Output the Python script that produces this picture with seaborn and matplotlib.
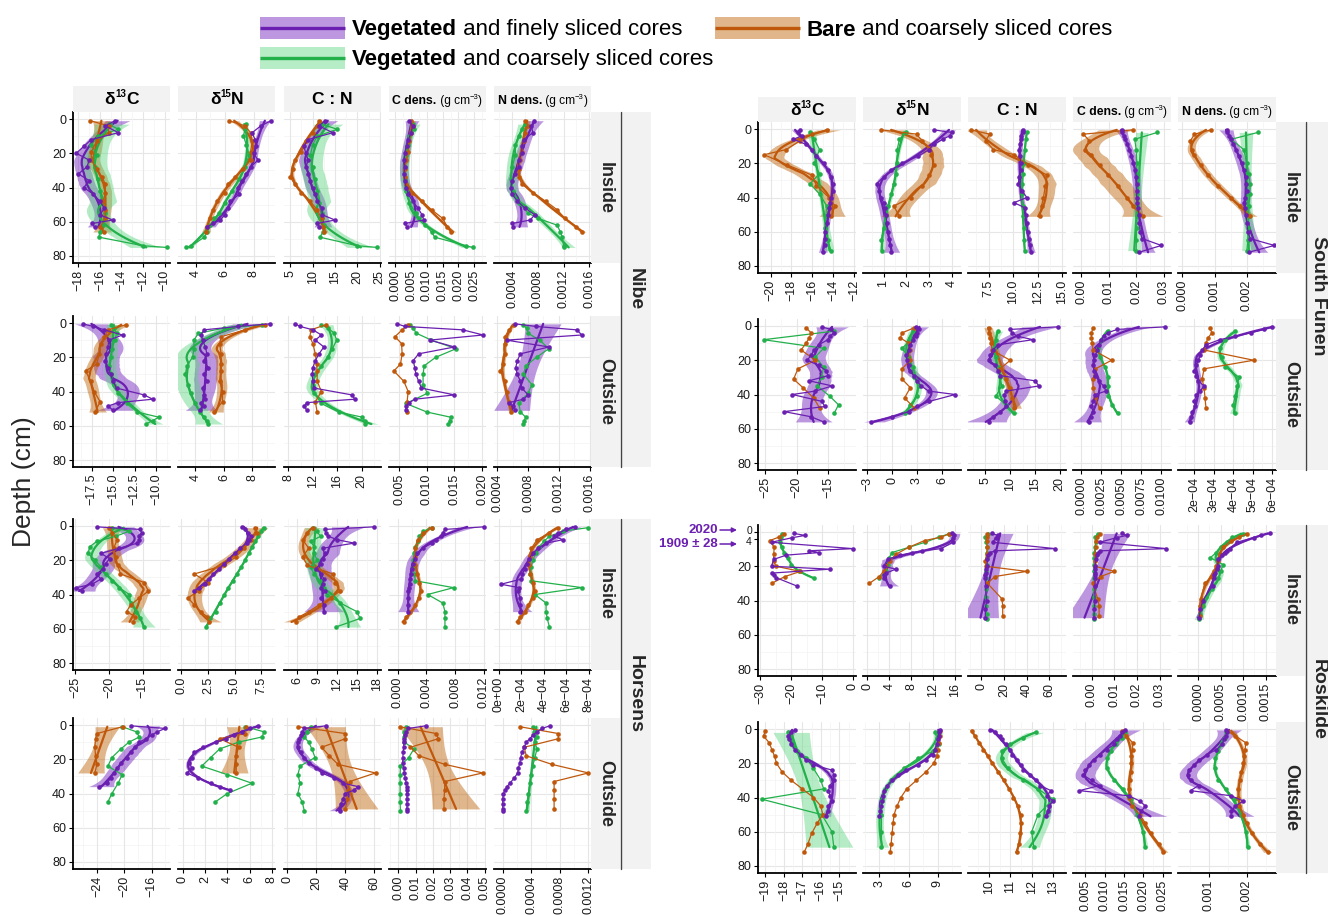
import warnings
warnings.filterwarnings("ignore")
import numpy as np
import pandas as pd
import matplotlib
matplotlib.use("Agg")
import matplotlib.pyplot as plt
from matplotlib.patches import Rectangle
import seaborn as sns

NA = np.nan
VARIABLES = ["d13C", "d15N", "CN", "Cdens", "Ndens"]
DRAW_ORDER = ["coarse", "bare", "fine"]

# ---------------- Nibe / Inside ----------------
NIBE_IN_FINE_DEPTH = [1, 4, 8, 12, 16, 20, 24, 28, 32, 36, 40, 44, 48, 52, 56, 59, 61, 63]
NIBE_IN_FINE = {
    "d13C": [-14.6, -15.5, -14.3, -16.8, -17.5, -18.2, -17.0, -17.2, -18.0, -17.0, -17.5, -16.6, -16.0, -15.6, -16.0, -14.8, -16.7, -16.5],
    "d15N": [9.2, 8.5, 7.9, 8.1, 8.2, 8.0, 8.3, 7.8, 7.5, 7.2, 6.9, 7.0, 6.4, 6.2, 6.0, 5.7, 5.2, 4.8],
    "CN": [12.8, 11.4, 14.5, 9.0, 8.0, 8.5, 9.0, 8.5, 9.0, 9.5, 10.0, 10.5, 11.0, 12.0, 12.2, 15.0, 11.0, 11.5],
    "Cdens": [0.0045, 0.0055, 0.005, 0.0042, 0.0036, 0.003, 0.0028, 0.003, 0.0028, 0.003, 0.0035, 0.0042, 0.0055, 0.0072, 0.0085, 0.009, 0.003, 0.0038],
    "Ndens": [0.00074, 0.0007, 0.00072, 0.00058, 0.00055, 0.00055, 0.0005, 0.0005, 0.00045, 0.0004, 0.00038, 0.0004, 0.00048, 0.0006, 0.00075, 0.00068, 0.0004, 0.00042],
}
NIBE_IN_BARE_DEPTH = [1, 4, 8, 13, 19, 24, 29, 34, 38, 43, 48, 53, 58, 63, 66]
NIBE_IN_BARE = {
    "d13C": [-16.9, -15.2, -15.2, -16.3, -16.8, -16.8, -16.3, -15.8, -15.5, -15.5, -15.7, -15.5, -15.5, -16.0, -15.6],
    "d15N": [6.3, 7.4, 7.8, 7.9, 7.8, 7.8, 7.3, 6.7, 6.2, 6.0, 5.5, 5.2, 5.0, 4.8, 4.7],
    "CN": [11.5, 11.0, 10.0, 8.5, 7.5, 6.0, 5.5, 5.0, 6.0, 7.5, 9.5, 11.0, 12.0, 12.3, 12.5],
    "Cdens": [0.005, 0.0055, 0.005, 0.0045, 0.004, 0.0035, 0.003, 0.003, 0.0035, 0.0052, 0.0086, 0.0115, 0.015, 0.0165, 0.0175],
    "Ndens": [0.0006, 0.00065, 0.0006, 0.00058, 0.00055, 0.00052, 0.0005, 0.0005, 0.00055, 0.00072, 0.00092, 0.0011, 0.00122, 0.0014, 0.00148],
}
NIBE_IN_COARSE_DEPTH = [3, 6, 10, 15, 21, 28, 35, 42, 49, 55, 58, 62, 66, 69, 74, 75]
NIBE_IN_COARSE = {
    "d13C": [-15.2, -14.3, -16.2, -16.8, -16.3, -16.5, -16.2, -16.0, -15.8, -15.5, -15.5, -15.7, -16.0, -16.1, -12.0, -9.8],
    "d15N": [7.5, 7.4, 7.3, 7.5, 7.7, 7.4, 7.0, 6.5, 6.0, 5.6, 5.3, 5.0, 4.8, 4.6, 3.7, 3.3],
    "CN": [12.0, 15.5, 11.0, 10.0, 9.5, 10.0, 10.5, 11.0, 11.5, 12.0, 12.0, 12.5, 12.3, 11.6, 20.0, 24.5],
    "Cdens": [0.0055, 0.006, 0.0045, 0.004, 0.0035, 0.003, 0.003, 0.0035, 0.0045, 0.0065, 0.0075, 0.0095, 0.0115, 0.0125, 0.0225, 0.0245],
    "Ndens": [0.0006, 0.00055, 0.0005, 0.00045, 0.00045, 0.0004, 0.00038, 0.00042, 0.0005, 0.00065, 0.0008, 0.0011, 0.00115, 0.00118, 0.0012, 0.00121],
}

# ---------------- Nibe / Outside ----------------
NIBE_OUT_FINE_DEPTH = [0.5, 2, 4, 7, 10, 14, 18, 22, 26, 30, 34, 38, 42, 44.5, 46.5, 48.5, 51]
NIBE_OUT_FINE = {
    "d13C": [-18.5, -17.3, -16.0, -13.9, -15.5, -15.6, -15.8, -15.9, -15.6, -15.3, -15.0, -14.6, -11.4, -10.4, -14.4, -15.6, -15.0],
    "d15N": [9.2, 7.0, 4.6, 4.4, 4.5, 4.7, 4.8, 4.6, 4.9, 4.6, 4.8, 4.5, 4.6, 4.7, 4.4, 4.6, 4.3],
    "CN": [9.1, 9.9, 12.0, 13.4, 12.4, 13.8, 13.0, 12.4, 12.0, 11.9, 12.0, 12.2, 18.4, 18.9, 11.0, 10.6, 11.0],
    "Cdens": [0.0046, 0.006, 0.0165, 0.0202, 0.0105, 0.015, 0.0085, 0.0075, 0.0078, 0.008, 0.0085, 0.009, 0.015, 0.0078, 0.0068, 0.0062, 0.0062],
    "Ndens": [0.00063, 0.0009, 0.00143, 0.0015, 0.00052, 0.00107, 0.0007, 0.00066, 0.00064, 0.00066, 0.0007, 0.00072, 0.0008, 0.00074, 0.00055, 0.0006, 0.00063],
}
NIBE_OUT_BARE_DEPTH = [1, 4, 8, 12, 18, 24, 28, 34, 40, 46, 52]
NIBE_OUT_BARE = {
    "d13C": [-13.5, -15.6, -16.0, -16.4, -16.6, -16.9, -18.2, -17.6, -17.2, -16.5, -17.1],
    "d15N": [8.9, 7.5, 5.8, 5.7, 5.8, 5.8, 5.8, 5.7, 5.9, 5.9, 5.3],
    "CN": [14.1, 11.7, 11.5, 12.0, 12.4, 12.6, 12.7, 12.7, 13.4, 12.4, 12.7],
    "Cdens": [0.0066, 0.0055, 0.0042, 0.0054, 0.0055, 0.0052, 0.004, 0.0058, 0.0066, 0.0064, 0.0063],
    "Ndens": [0.00062, 0.00055, 0.0005, 0.0005, 0.0005, 0.00048, 0.00044, 0.0005, 0.00052, 0.00055, 0.00058],
}
NIBE_OUT_COARSE_DEPTH = [1, 3, 6, 10, 15, 20, 25, 30, 36, 41, 47, 52, 55, 57, 59]
NIBE_OUT_COARSE = {
    "d13C": [-15.3, -14.9, -14.6, -14.8, -15.1, -15.3, -15.5, -15.2, -14.9, -14.4, -13.4, -12.2, -9.7, -10.4, -11.2],
    "d15N": [8.7, 6.0, 4.2, 3.9, 3.9, 3.8, 3.4, 3.3, 3.5, 3.7, 4.0, 4.3, 4.6, 4.8, 4.9],
    "CN": [13.4, 14.5, 15.5, 15.9, 15.2, 14.4, 13.4, 12.4, 12.0, 12.2, 13.4, 16.2, 20.1, 20.5, 20.5],
    "Cdens": [0.0069, 0.0075, 0.0081, 0.0108, 0.0153, 0.0116, 0.0095, 0.0093, 0.0093, 0.0101, 0.0062, 0.010, 0.0143, 0.0141, 0.0139],
    "Ndens": [0.00074, 0.00078, 0.0008, 0.00095, 0.00107, 0.00091, 0.00077, 0.00074, 0.00085, 0.0008, 0.00068, 0.0007, 0.00077, 0.00075, 0.00074],
}

# ---------------- Horsens / Inside ----------------
HORSENS_IN_FINE_DEPTH = [0.5, 2, 4, 6, 8, 10, 13, 16, 19, 22, 25, 28, 31, 34, 36, 38, 42, 46, 50]
HORSENS_IN_FINE = {
    "d13C": [-21.8, -15.4, -15.2, -15.6, -15.5, -15.8, -18.5, -21.2, -19.9, -20.5, -20.9, -21.8, -21.2, -22.5, -24.8, -24.0, NA, NA, NA],
    "d15N": [5.7, 6.0, 6.2, 6.5, 6.3, 6.1, 5.5, 5.0, 4.5, 4.0, 3.5, 3.0, 2.6, 2.2, 1.6, 1.2, NA, NA, NA],
    "CN": [17.6, 10.1, 10.4, 10.7, 12.0, 14.6, 9.8, 10.1, 9.8, 9.5, 8.8, 9.6, 10.0, 9.8, 9.5, 10.1, 9.6, 10.0, 10.0],
    "Cdens": [0.012, 0.0066, 0.0063, 0.006, 0.0054, 0.0048, 0.0035, 0.0027, 0.0024, 0.0021, 0.002, 0.0019, 0.0018, 0.0017, 0.0016, 0.0015, 0.0015, 0.0015, 0.0015],
    "Ndens": [6.8e-4, 6.0e-4, 5.3e-4, 4.9e-4, 5.7e-4, 4.2e-4, 3.5e-4, 3.0e-4, 2.7e-4, 2.5e-4, 2.3e-4, 2.1e-4, 2.0e-4, 0.2e-4, 1.8e-4, 1.7e-4, 1.9e-4, 1.9e-4, 1.9e-4],
}
HORSENS_IN_BARE_DEPTH = [1, 4, 8, 13, 18, 23, 28, 33, 38, 42, 46, 50, 53, 56]
HORSENS_IN_BARE = {
    "d13C": [-20.0, -19.5, -18.8, -19.3, -19.0, -18.7, -18.3, -14.8, -14.2, -15.5, -16.8, -17.4, -16.1, -16.4],
    "d15N": [6.9, 7.1, 6.5, 5.9, 5.1, 4.0, 1.2, 2.5, 1.6, 0.6, 1.2, 1.8, 2.4, 2.6],
    "CN": [8.3, 7.4, 6.8, 7.7, 6.8, 7.5, 11.4, 11.75, 12.4, 11.1, 9.3, 7.7, 6.3, 5.8],
    "Cdens": [0.0048, 0.0036, 0.0028, 0.0024, 0.0024, 0.0025, 0.0027, 0.003, 0.0033, 0.003, 0.0025, 0.0018, 0.0012, 0.0009],
    "Ndens": [5.3e-4, 4.5e-4, 3.4e-4, 2.9e-4, 2.8e-4, 2.7e-4, 2.8e-4, 3.0e-4, 3.2e-4, 3.0e-4, 2.6e-4, 2.3e-4, 1.9e-4, 1.7e-4],
}
HORSENS_IN_COARSE_DEPTH = [1, 3, 6, 9, 12, 16, 20, 24, 28, 32, 36, 40, 45, 50, 54, 59]
HORSENS_IN_COARSE = {
    "d13C": [-19.6, -17.0, -19.0, -21.8, -22.8, -23.1, -22.0, -21.2, -20.5, -19.6, -18.5, -17.0, -16.8, -16.0, -15.4, -14.8],
    "d15N": [7.7, 7.5, 7.2, 6.9, 6.6, 6.3, 6.0, 5.6, 5.2, 4.8, 4.4, 4.0, 3.6, 3.2, 2.7, 2.3],
    "CN": [8.3, 8.9, 9.5, 8.0, 8.5, 8.5, 9.0, 8.0, 8.5, 9.5, 10.0, 10.5, 12.5, 15.0, 15.5, 11.8],
    "Cdens": [0.0048, 0.0036, 0.003, 0.0028, 0.0025, 0.0023, 0.0022, 0.0022, 0.0023, 0.0025, 0.0078, 0.0042, 0.0063, 0.0066, 0.0066, 0.0066],
    "Ndens": [7.9e-4, 5.7e-4, 4.5e-4, 4.0e-4, 3.6e-4, 3.3e-4, 3.0e-4, 2.9e-4, 2.8e-4, 2.9e-4, 7.4e-4, 3.2e-4, 4.2e-4, 4.2e-4, 4.3e-4, 4.5e-4],
}

# ---------------- Horsens / Outside ----------------
HORSENS_OUT_FINE_DEPTH = [0.5, 2, 4, 6, 8, 10, 13, 16, 19, 22, 25, 28, 31, 34, 36, 38, 40, 43, 46, 49, 50]
HORSENS_OUT_FINE = {
    "d13C": [-19.0, -14.0, -15.2, -16.0, -16.8, -17.8, -18.4, -19.0, -19.6, -20.5, -21.0, -21.5, -22.0, -22.5, -23.7, NA, NA, NA, NA, NA, NA],
    "d15N": [6.75, 6.0, 5.3, 4.6, 3.9, 3.0, 1.8, 1.0, 0.8, 0.6, 0.8, 0.4, 1.4, 2.5, 3.3, 4.2, NA, NA, NA, NA, NA],
    "CN": [26.6, 11.8, 10.4, 9.5, 8.5, 7.4, 7.4, 9.5, 11.8, 14.8, 20.0, 23.7, 32.5, 38.5, 48.8, 45.9, 40.0, 38.5, 37.0, 35.5, 36.0],
    "Cdens": [0.0158, 0.0058, 0.0045, 0.004, 0.0035, 0.0033, 0.003, 0.0028, 0.0026, 0.0025, 0.003, 0.0035, 0.004, 0.0045, 0.0048, 0.005, 0.005, 0.005, 0.005, 0.005, 0.005],
    "Ndens": [6.6e-4, 5.5e-4, 4.8e-4, 4.2e-4, 3.8e-4, 3.3e-4, 3.0e-4, 2.7e-4, 2.5e-4, 2.4e-4, 2.2e-4, 2.1e-4, 1.6e-4, 1.0e-4, 0.6e-4, 0.3e-4, 0.1e-4, 0.0, 0.0, 0.0, 0.0],
}
HORSENS_OUT_BARE_DEPTH = [1, 5, 8, 13, 18, 23, 28, 33, 38, 43, 49]
HORSENS_OUT_BARE = {
    "d13C": [-20.25, -24.0, -24.2, -24.3, -24.2, -24.0, -24.3, NA, NA, NA, NA],
    "d15N": [5.7, 5.6, 3.3, 5.0, 4.8, 4.8, 4.8, NA, NA, NA, NA],
    "CN": [7.4, 40.0, 40.0, 23.7, 29.0, 35.0, 60.7, 43.0, 41.5, 41.4, 40.0],
    "Cdens": [0.0008, 0.022, 0.0232, 0.007, 0.012, 0.027, 0.049, 0.027, 0.0268, 0.0265, 0.0265],
    "Ndens": [2.4e-4, 7.8e-4, 7.8e-4, 3.0e-4, 3.3e-4, 6.9e-4, 1.2e-3, 7.2e-4, 7.2e-4, 7.2e-4, 7.2e-4],
}
HORSENS_OUT_COARSE_DEPTH = [1, 4, 7, 10, 14, 19, 24, 29, 34, 40, 45, 50]
HORSENS_OUT_COARSE = {
    "d13C": [-20.3, -18.2, -17.8, -19.3, -20.5, -21.8, -22.4, -20.3, -20.9, -21.8, -22.4, NA],
    "d15N": [5.6, 7.3, 7.1, 5.0, 3.3, 2.5, 1.7, 4.0, 6.2, 4.0, 2.9, NA],
    "CN": [16.3, 14.0, 11.8, 14.8, 17.0, 19.2, 8.9, 7.4, 8.9, 7.4, 10.4, 11.8],
    "Cdens": [0.0045, 0.0033, 0.003, 0.0035, 0.009, 0.006, 0.0012, 0.001, 0.001, 0.001, 0.001, 0.0012],
    "Ndens": [4.2e-4, 4.4e-4, 4.8e-4, 4.5e-4, 4.8e-4, 4.5e-4, 4.2e-4, 4.0e-4, 3.8e-4, 3.6e-4, 3.4e-4, 3.3e-4],
}

# ---------------- South Funen / Inside ----------------
SFUNEN_IN_FINE_DEPTH = [0.5, 2, 4, 6, 9, 12, 16, 20, 24, 28, 32, 36, 40, 43, 46, 50, 55, 60, 64, 68, 72]
SFUNEN_IN_FINE = {
    "d13C": [-17.2, -17.4, -17.0, -17.8, -16.6, -16.0, -15.6, -14.9, -14.5, -14.2, -14.0, -14.0, -14.2, -14.3, -14.4, -14.5, -14.6, -14.8, -14.8, -14.8, -15.0],
    "d15N": [3.2, 4.0, 3.9, 3.6, 3.2, 3.0, 2.5, 1.8, 1.35, 1.0, 0.7, 0.8, 0.9, 1.0, 1.05, 1.1, 1.15, 1.2, 1.25, 1.3, 1.35],
    "CN": [11.0, 11.0, 10.8, 10.8, 10.7, 10.6, 10.7, 10.8, 10.8, 10.6, 10.55, 10.9, 11.4, 10.1, 11.2, 11.3, 11.4, 11.5, 11.6, 11.7, 11.8],
    "Cdens": [0.0147, 0.015, 0.0155, 0.016, 0.0168, 0.0175, 0.0183, 0.019, 0.0197, 0.0201, 0.0202, 0.0202, 0.0202, 0.0204, 0.0206, 0.021, 0.0212, 0.0215, 0.0222, 0.0292, 0.021],
    "Ndens": [0.00137, 0.0014, 0.00146, 0.0015, 0.00158, 0.00165, 0.00175, 0.00184, 0.0019, 0.00196, 0.00198, 0.002, 0.00195, 0.0019, 0.00193, 0.00196, 0.002, 0.00203, 0.0021, 0.00285, 0.00205],
}
SFUNEN_IN_BARE_DEPTH = [0.5, 3, 7, 12, 15, 21, 27, 33, 40, 45, 51]
SFUNEN_IN_BARE = {
    "d13C": [-14.6, -16.0, -17.2, -18.5, -20.6, -18.4, -16.0, -15.6, -14.4, -13.8, -14.2],
    "d15N": [0.9, 2.45, 2.7, 3.0, 3.1, 3.2, 3.0, 2.7, 2.2, 1.45, 1.7],
    "CN": [5.7, 7.6, 7.2, 8.0, 10.1, 11.5, 13.5, 13.3, 13.1, 12.9, 12.7],
    "Cdens": [0.0187, 0.0008, 0.003, 0.0015, 0.0037, 0.0067, 0.0097, 0.0135, 0.0165, 0.0187, 0.0225],
    "Ndens": [0.00089, 0.00038, 0.00025, 0.0003, 0.00038, 0.00057, 0.0008, 0.0011, 0.0015, 0.0018, 0.0021],
}
SFUNEN_IN_COARSE_DEPTH = [2, 6, 12, 20, 26, 32, 38, 45, 51, 58, 65, 71]
SFUNEN_IN_COARSE = {
    "d13C": [-16.2, -15.8, -15.3, -15.8, -15.3, -16.2, -15.3, -14.6, -14.7, -14.8, -14.5, -14.2],
    "d15N": [2.0, 1.7, 1.6, 1.6, 1.55, 1.45, 1.35, 1.2, 1.1, 1.0, 0.9, 0.95],
    "CN": [11.4, 11.3, 11.2, 11.1, 11.0, 10.9, 10.9, 11.0, 11.0, 11.1, 11.1, 11.2],
    "Cdens": [0.0277, 0.0195, 0.02, 0.0202, 0.0202, 0.0202, 0.0203, 0.0202, 0.0202, 0.0202, 0.0201, 0.02],
    "Ndens": [0.00234, 0.00152, 0.0019, 0.002, 0.00205, 0.0021, 0.00209, 0.00206, 0.00205, 0.00204, 0.00203, 0.002],
}

# ---------------- South Funen / Outside ----------------
SFUNEN_OUT_FINE_DEPTH = [0.5, 2, 4, 6, 8, 11, 14, 17, 20, 23, 26, 29, 32, 35, 38, 40, 44, 47, 50, 53, 56]
SFUNEN_OUT_FINE = {
    "d13C": [-16.0, -14.5, -14.0, -14.7, -15.0, -16.5, -17.2, -17.7, -18.3, -16.5, -15.3, -15.0, -18.0, -14.3, -17.0, -20.7, -16.0, -15.5, -22.0, -17.7, -15.7],
    "d15N": [2.9, 3.2, 3.0, 2.9, 2.5, 2.2, 2.0, 1.7, 1.8, 2.0, 2.2, 2.6, 3.0, 3.5, 4.4, 7.6, 4.5, 3.0, 2.0, 0.0, -2.5],
    "CN": [19.6, 10.0, 10.4, 11.5, 14.6, 7.5, 6.5, 6.0, 5.8, 7.0, 7.5, 8.0, 15.0, 15.8, 9.2, 8.8, 9.0, 9.2, 8.0, 6.5, 5.8],
    "Cdens": [0.0105, 0.0045, 0.0033, 0.0028, 0.0025, 0.0022, 0.002, 0.0018, 0.0016, 0.0015, 0.0016, 0.0018, 0.0022, 0.0028, 0.0031, 0.0018, 0.0015, 0.0013, 0.0015, 0.0012, 0.001],
    "Ndens": [6.0e-4, 5.6e-4, 4.9e-4, 4.1e-4, 3.3e-4, 2.6e-4, 2.4e-4, 2.3e-4, 2.2e-4, 2.1e-4, 2.0e-4, 2.1e-4, 2.2e-4, 2.5e-4, 2.3e-4, 2.1e-4, 2.0e-4, 2.05e-4, 1.9e-4, 1.85e-4, 1.8e-4],
}
SFUNEN_OUT_BARE_DEPTH = [1, 4, 7, 10, 14, 20, 25, 31, 36, 42, 48]
SFUNEN_OUT_BARE = {
    "d13C": [-18.5, -17.7, -18.0, -18.5, -19.3, -17.0, -19.8, -20.5, -19.0, -17.3, -16.3],
    "d15N": [2.7, 1.2, 1.0, 2.0, 2.1, 2.2, 1.2, 1.2, 2.2, 1.5, 2.7],
    "CN": [5.7, 5.8, 6.0, 6.2, 6.3, 10.0, 8.0, 9.2, 10.0, 10.4, 10.8],
    "Cdens": [0.0015, 0.0013, 0.0013, 0.0014, 0.0015, 0.0038, 0.0018, 0.0015, 0.0015, 0.0018, 0.0023],
    "Ndens": [2.8e-4, 2.9e-4, 2.7e-4, 2.6e-4, 2.5e-4, 5.05e-4, 2.5e-4, 2.4e-4, 2.5e-4, 2.55e-4, 2.6e-4],
}
SFUNEN_OUT_COARSE_DEPTH = [3, 8, 13, 18, 24, 30, 35, 41, 46, 51]
SFUNEN_OUT_COARSE = {
    "d13C": [-14.0, -25.3, -15.7, -17.0, -15.7, -16.0, -16.7, -14.7, -13.3, -14.0],
    "d15N": [2.5, 2.3, 1.2, 2.0, 2.5, 2.7, 3.2, 3.0, 2.2, 1.5],
    "CN": [7.5, 7.2, 6.7, 7.1, 7.5, 8.0, 8.3, 7.1, 9.2, 10.8],
    "Cdens": [0.0033, 0.0025, 0.0021, 0.0024, 0.003, 0.0034, 0.0033, 0.0034, 0.0038, 0.0046],
    "Ndens": [4.1e-4, 3.6e-4, 3.3e-4, 3.4e-4, 3.6e-4, 4.3e-4, 4.2e-4, 4.1e-4, 4.0e-4, 4.1e-4],
}

# ---------------- Roskilde / Inside ----------------
ROSKILDE_IN_FINE_DEPTH = [0.8, 2, 3.3, 6, 9.7, 11, 12, 13.5, 16, 20, 21.7, 24, 25, 26.6, 31.5, 40, 45, 50]
ROSKILDE_IN_FINE = {
    "d13C": [-19.2, -15.5, -19.6, -26.4, 0.0, -14.2, -10.8, -21.6, -25.7, -26.4, -7.4, -26.4, -25.7, -25.0, -18.2, NA, NA, NA],
    "d15N": [15.3, 15.7, 15.5, 15.5, 13.4, 10.0, 8.2, 6.0, 3.7, 3.0, 5.2, 3.4, 3.0, 3.0, 4.1, NA, NA, NA],
    "CN": [9.1, 14.5, 13.0, 10.0, 65.0, 12.0, 8.0, 6.0, 5.5, 5.0, 4.5, 4.0, 3.6, 3.6, 3.8, 4.7, 3.6, 3.6],
    "Cdens": [0.0133, 0.0155, 0.011, 0.0036, 0.033, 0.0036, 0.003, 0.0025, 0.0018, 0.0016, 0.0015, 0.0015, 0.0015, 0.0015, 0.0015, 0.0015, 0.0012, 0.001],
    "Ndens": [0.00159, 0.0014, 0.00123, 0.00086, 0.0007, 0.00064, 0.0006, 0.00052, 0.00045, 0.00043, 0.00041, 0.00038, 0.00036, 0.00034, 0.00032, 0.0001, 0.00005, 0.00002],
}
ROSKILDE_IN_BARE_DEPTH = [1, 3, 5, 9, 13, 17, 20, 23, 26, 30, 39, 43, 49]
ROSKILDE_IN_BARE = {
    "d13C": [-22.3, -24.0, -27.0, -25.5, -25.7, -25.7, -25.0, -17.0, -22.0, -26.4, NA, NA, NA],
    "d15N": [14.9, 13.4, 10.4, 7.5, 5.2, 4.1, 3.5, 3.0, 2.2, 0.4, NA, NA, NA],
    "CN": [5.5, 4.7, 4.7, 5.5, 4.7, 3.6, 4.0, 40.0, 12.0, 5.5, 18.2, 18.9, 18.9],
    "Cdens": [0.0036, 0.0025, 0.0018, 0.0018, 0.0016, 0.0015, 0.0015, 0.01, 0.004, 0.0005, 0.0027, 0.0033, 0.0033],
    "Ndens": [0.00109, 0.0009, 0.00073, 0.00055, 0.00048, 0.00045, 0.0004, 0.00036, 0.0003, 0.00014, 0.00007, 0.00005, 0.00003],
}
ROSKILDE_IN_COARSE_DEPTH = [1, 3, 6, 9, 12, 15, 19, 23, 27, 33, 38, 43, 48, 51]
ROSKILDE_IN_COARSE = {
    "d13C": [-23.0, -23.2, -23.6, -23.0, -22.3, -21.0, -20.0, -17.5, -12.5, NA, NA, NA, NA, NA],
    "d15N": [14.9, 13.0, 10.5, 7.5, 4.5, 4.0, 3.7, 3.4, 2.2, NA, NA, NA, NA, NA],
    "CN": [6.2, 3.6, 4.5, 5.5, 5.0, 4.7, 4.7, 4.5, 4.4, 4.4, 4.4, 4.5, 4.7, 5.5],
    "Cdens": [0.0027, 0.0015, 0.0018, 0.0014, 0.0012, 0.0011, 0.001, 0.001, 0.001, 0.001, 0.001, 0.001, 0.001, 0.001],
    "Ndens": [0.001, 0.00075, 0.00064, 0.0005, 0.0004, 0.00027, 0.00055, 0.0005, 0.00045, 0.0003, 0.00018, 0.0001, 0.00005, 0.00002],
}

# ---------------- Roskilde / Outside ----------------
ROSKILDE_OUT_FINE_DEPTH = [0.5, 2, 4, 6, 9, 12, 15, 18, 21, 24, 27, 30, 33, 36, 39, 42, 45, 48, 51]
ROSKILDE_OUT_FINE = {
    "d13C": [-17.4, -17.6, -17.8, -17.7, -17.6, -17.4, -17.1, -16.8, -16.4, -15.4, -15.3, -15.3, -15.5, -15.6, -15.5, -15.4, -15.6, -15.6, -15.7],
    "d15N": [9.2, 9.1, 9.1, 9.0, 8.9, 8.7, 8.5, 7.8, 7.0, 5.7, 4.9, 4.3, 3.8, 3.5, 3.4, 3.3, 3.2, 3.1, 3.0],
    "CN": [10.05, 10.3, 10.5, 10.6, 10.8, 11.0, 11.1, 11.3, 11.5, 11.6, 11.9, 12.2, 12.4, 12.9, 12.7, 13.0, 12.8, 12.75, 12.65],
    "Cdens": [0.0151, 0.0145, 0.014, 0.0132, 0.0124, 0.0105, 0.0087, 0.0072, 0.006, 0.005, 0.0045, 0.0066, 0.0087, 0.0034, 0.0162, 0.019, 0.0205, 0.0194, 0.0188],
    "Ndens": [0.00146, 0.00148, 0.00145, 0.0014, 0.00135, 0.0012, 0.00095, 0.00075, 0.00062, 0.00048, 0.00046, 0.00052, 0.00073, 0.00052, 0.00159, 0.00191, 0.0017, 0.00159, 0.00159],
}
ROSKILDE_OUT_BARE_DEPTH = [1, 4, 8, 12, 16, 20, 25, 30, 35, 40, 45, 50, 55, 61, 67, 72]
ROSKILDE_OUT_BARE = {
    "d13C": [-19.0, -19.1, -18.8, -18.65, -18.5, -18.4, -18.1, -17.6, -17.0, -16.4, -16.0, -15.9, -16.2, -16.5, -16.7, -16.9],
    "d15N": [9.2, 9.2, 9.1, 9.0, 8.9, 8.6, 7.8, 6.8, 5.8, 5.2, 4.8, 4.5, 4.4, 4.3, 4.2, 4.1],
    "CN": [9.2, 9.35, 9.55, 9.75, 9.95, 10.15, 10.45, 10.7, 10.95, 11.15, 11.35, 11.5, 11.5, 11.45, 11.4, 11.3],
    "Cdens": [0.0144, 0.0156, 0.0172, 0.0172, 0.0168, 0.0167, 0.0167, 0.0165, 0.0163, 0.0162, 0.017, 0.019, 0.0205, 0.022, 0.024, 0.025],
    "Ndens": [0.00148, 0.0017, 0.00197, 0.00196, 0.00194, 0.0019, 0.00186, 0.00182, 0.00178, 0.00178, 0.0018, 0.0019, 0.002, 0.00213, 0.00234, 0.00256],
}
ROSKILDE_OUT_COARSE_DEPTH = [2, 5, 9, 13, 17, 23, 30, 35, 41, 50, 60, 69]
ROSKILDE_OUT_COARSE = {
    "d13C": [-17.8, -17.6, -17.5, -17.3, -16.8, -16.4, -16.0, -15.85, -19.2, -15.95, -15.4, -15.3],
    "d15N": [8.7, 8.9, 9.1, 8.5, 7.0, 5.5, 4.2, 3.6, 3.3, 3.2, 3.2, 3.2],
    "CN": [12.2, 11.6, 11.0, 10.6, 10.6, 10.9, 11.6, 12.3, 13.0, 12.3, 12.0, 12.1],
    "Cdens": [0.0151, 0.0145, 0.013, 0.0115, 0.0105, 0.0105, 0.0125, 0.0148, 0.0168, 0.0183, 0.0199, 0.0204],
    "Ndens": [0.00146, 0.00143, 0.00135, 0.00125, 0.00117, 0.00116, 0.00125, 0.00145, 0.00168, 0.00186, 0.00197, 0.00202],
}

# ---------------- axis tick values (per panel) ----------------
NIBE_IN_TICKS = [[-18, -16, -14, -12, -10], [4, 6, 8], [5, 10, 15, 20, 25], [0, 0.005, 0.01, 0.015, 0.02, 0.025], [0.0004, 0.0008, 0.0012, 0.0016]]
NIBE_OUT_TICKS = [[-17.5, -15, -12.5, -10], [4, 6, 8], [8, 12, 16, 20], [0.005, 0.01, 0.015, 0.02], [0.0004, 0.0008, 0.0012, 0.0016]]
HORSENS_IN_TICKS = [[-25, -20, -15], [0, 2.5, 5, 7.5], [6, 9, 12, 15, 18], [0, 0.004, 0.008, 0.012], [0, 2e-4, 4e-4, 6e-4, 8e-4]]
HORSENS_OUT_TICKS = [[-24, -20, -16], [0, 2, 4, 6, 8], [0, 20, 40, 60], [0, 0.01, 0.02, 0.03, 0.04, 0.05], [0, 0.0004, 0.0008, 0.0012]]
SFUNEN_IN_TICKS = [[-20, -18, -16, -14, -12], [1, 2, 3, 4], [7.5, 10, 12.5, 15], [0, 0.01, 0.02, 0.03], [0, 0.001, 0.002]]
SFUNEN_OUT_TICKS = [[-25, -20, -15], [-3, 0, 3, 6], [5, 10, 15, 20], [0, 0.0025, 0.005, 0.0075, 0.01], [2e-4, 3e-4, 4e-4, 5e-4, 6e-4]]
ROSKILDE_IN_TICKS = [[-30, -20, -10, 0], [0, 4, 8, 12, 16], [0, 20, 40, 60], [0, 0.01, 0.02, 0.03], [0, 0.0005, 0.001, 0.0015]]
ROSKILDE_OUT_TICKS = [[-19, -18, -17, -16, -15], [3, 6, 9], [10, 11, 12, 13], [0.005, 0.01, 0.015, 0.02, 0.025], [0.001, 0.002]]
DEPTH_TICKS = [0, 20, 40, 60, 80]
DATING_LABELS = ["2020", "1909 \u00b1 28"]

# ---------------- layout / style (not data) ----------------
NIBE_IN_XLIM = [(-18.5, -9.5), (2.8, 9.5), (3.5, 25.2), (-0.002, 0.0287), (0.00012, 0.00163)]
NIBE_OUT_XLIM = [(-19.65, -8.4), (2.8, 9.6), (7.2, 23.1), (0.0031, 0.0207), (0.00036, 0.00162)]
HORSENS_IN_XLIM = [(-25.3, -11.0), (-0.3, 8.8), (3.9, 18.6), (-0.0012, 0.0123), (-0.00004, 0.00082)]
HORSENS_OUT_XLIM = [(-27.5, -13.3), (-0.4, 8.3), (-2.4, 64.2), (-0.0055, 0.0508), (-0.00012, 0.00124)]
SFUNEN_IN_XLIM = [(-21.2, -11.8), (0.1, 4.4), (5.4, 15.4), (-0.003, 0.0327), (-0.00013, 0.0029)]
SFUNEN_OUT_XLIM = [(-26.2, -10.5), (-3.5, 8.3), (1.5, 21.25), (-0.001, 0.0112), (1.16e-4, 6.2e-4)]
ROSKILDE_IN_XLIM = [(-30.8, 1.1), (-0.75, 17.0), (-11.6, 74.5), (-0.0082, 0.035), (-0.00045, 0.00173)]
ROSKILDE_OUT_XLIM = [(-19.4, -14.1), (1.3, 11.4), (9.03, 13.6), (0.0018, 0.0271), (0.00019, 0.00277)]

# smoother per panel: P=fine, O=bare, G=coarse; upper = loess, lower = linear
NIBE_IN_SMOOTH = ["POG", "POG", "POG", "POG", "POG"]
NIBE_OUT_SMOOTH = ["POG", "POG", "G", "", "pO"]
HORSENS_IN_SMOOTH = ["POG", "POG", "POG", "PO", "PO"]
HORSENS_OUT_SMOOTH = ["Po", "Po", "Po", "o", "g"]
SFUNEN_IN_SMOOTH = ["POg", "POG", "POG", "POg", "POg"]
SFUNEN_OUT_SMOOTH = ["P", "PG", "PoG", "PG", "PG"]
ROSKILDE_IN_SMOOTH = ["G", "P", "p", "p", "POG"]
ROSKILDE_OUT_SMOOTH = ["Pg", "PG", "POG", "POG", "POG"]

PANELS = [
    ("Nibe", "Inside", "L", 119, NIBE_IN_TICKS, NIBE_IN_XLIM, NIBE_IN_SMOOTH,
     {"fine": (NIBE_IN_FINE_DEPTH, NIBE_IN_FINE), "bare": (NIBE_IN_BARE_DEPTH, NIBE_IN_BARE), "coarse": (NIBE_IN_COARSE_DEPTH, NIBE_IN_COARSE)}),
    ("Nibe", "Outside", "L", 323, NIBE_OUT_TICKS, NIBE_OUT_XLIM, NIBE_OUT_SMOOTH,
     {"fine": (NIBE_OUT_FINE_DEPTH, NIBE_OUT_FINE), "bare": (NIBE_OUT_BARE_DEPTH, NIBE_OUT_BARE), "coarse": (NIBE_OUT_COARSE_DEPTH, NIBE_OUT_COARSE)}),
    ("Horsens", "Inside", "L", 526, HORSENS_IN_TICKS, HORSENS_IN_XLIM, HORSENS_IN_SMOOTH,
     {"fine": (HORSENS_IN_FINE_DEPTH, HORSENS_IN_FINE), "bare": (HORSENS_IN_BARE_DEPTH, HORSENS_IN_BARE), "coarse": (HORSENS_IN_COARSE_DEPTH, HORSENS_IN_COARSE)}),
    ("Horsens", "Outside", "L", 725, HORSENS_OUT_TICKS, HORSENS_OUT_XLIM, HORSENS_OUT_SMOOTH,
     {"fine": (HORSENS_OUT_FINE_DEPTH, HORSENS_OUT_FINE), "bare": (HORSENS_OUT_BARE_DEPTH, HORSENS_OUT_BARE), "coarse": (HORSENS_OUT_COARSE_DEPTH, HORSENS_OUT_COARSE)}),
    ("South Funen", "Inside", "R", 129, SFUNEN_IN_TICKS, SFUNEN_IN_XLIM, SFUNEN_IN_SMOOTH,
     {"fine": (SFUNEN_IN_FINE_DEPTH, SFUNEN_IN_FINE), "bare": (SFUNEN_IN_BARE_DEPTH, SFUNEN_IN_BARE), "coarse": (SFUNEN_IN_COARSE_DEPTH, SFUNEN_IN_COARSE)}),
    ("South Funen", "Outside", "R", 326, SFUNEN_OUT_TICKS, SFUNEN_OUT_XLIM, SFUNEN_OUT_SMOOTH,
     {"fine": (SFUNEN_OUT_FINE_DEPTH, SFUNEN_OUT_FINE), "bare": (SFUNEN_OUT_BARE_DEPTH, SFUNEN_OUT_BARE), "coarse": (SFUNEN_OUT_COARSE_DEPTH, SFUNEN_OUT_COARSE)}),
    ("Roskilde", "Inside", "R", 532, ROSKILDE_IN_TICKS, ROSKILDE_IN_XLIM, ROSKILDE_IN_SMOOTH,
     {"fine": (ROSKILDE_IN_FINE_DEPTH, ROSKILDE_IN_FINE), "bare": (ROSKILDE_IN_BARE_DEPTH, ROSKILDE_IN_BARE), "coarse": (ROSKILDE_IN_COARSE_DEPTH, ROSKILDE_IN_COARSE)}),
    ("Roskilde", "Outside", "R", 729, ROSKILDE_OUT_TICKS, ROSKILDE_OUT_XLIM, ROSKILDE_OUT_SMOOTH,
     {"fine": (ROSKILDE_OUT_FINE_DEPTH, ROSKILDE_OUT_FINE), "bare": (ROSKILDE_OUT_BARE_DEPTH, ROSKILDE_OUT_BARE), "coarse": (ROSKILDE_OUT_COARSE_DEPTH, ROSKILDE_OUT_COARSE)}),
]
SCI_PANELS = {("Horsens", "Inside", 4), ("South Funen", "Outside", 4)}

LINE_COL = {"fine": "#6a1fb0", "bare": "#c0580c", "coarse": "#22b04b"}
FILL_COL = {"fine": "#6c1aba", "bare": "#bb5d00", "coarse": "#5dd580"}
PATCH_COL = {"fine": "#bd98e0", "bare": "#e0b68a", "coarse": "#b6ecc6"}
LETTER = {"P": "fine", "O": "bare", "G": "coarse"}
STRIP_BG = "#f2f2f2"

W, H = 1328, 915
COLS = {"L": [73, 178.3, 283.6, 388.9, 494.2], "R": [758, 863, 968, 1073, 1178]}
PW = {"L": 97, "R": 98}
ROWSTRIP_X = {"L": 591, "R": 1276}
SITESTRIP_X = {"L": 621, "R": 1306}
PX_CM = 137 / 80.0


def loess_fit(d, v, grid, span=0.75):
    n = len(d)
    q = max(int(np.floor(n * span)), 3)
    q = min(q, n)

    def row(x0):
        dist = np.abs(d - x0)
        h = max(np.sort(dist)[q - 1], 1e-9) * 1.0001
        w = (1 - np.clip(dist / h, 0, 1) ** 3) ** 3
        X = np.column_stack([np.ones(n), d - x0, (d - x0) ** 2])
        A = (X.T * w) @ X
        return (np.linalg.pinv(A) @ (X.T * w))[0]

    Lg = np.array([row(x0) for x0 in grid])
    Ld = np.array([row(x0) for x0 in d])
    fit = Lg @ v
    res = v - Ld @ v
    dof = max(n - np.trace(Ld), 1.0)
    s = np.sqrt(res @ res / dof)
    se = s * np.sqrt((Lg ** 2).sum(1))
    return fit, se


def lm_fit(d, v, grid):
    X = np.column_stack([np.ones(len(d)), d])
    beta = np.linalg.lstsq(X, v, rcond=None)[0]
    res = v - X @ beta
    s2 = res @ res / max(len(d) - 2, 1)
    XtXi = np.linalg.pinv(X.T @ X)
    Xg = np.column_stack([np.ones(len(grid)), grid])
    fit = Xg @ beta
    se = np.sqrt(np.einsum("ij,jk,ik->i", Xg, XtXi, Xg) * s2)
    return fit, se


def tick_labels(ticks, sci=False):
    out = []
    if sci:
        for v in ticks:
            if v == 0:
                out.append("0e+00")
                continue
            e = int(np.floor(np.log10(abs(v)) + 1e-9))
            m = v / 10 ** e
            out.append(f"{m:.0f}e{'+' if e >= 0 else '-'}{abs(e):02d}")
    else:
        dec = 0
        for v in ticks:
            for k in range(8):
                if abs(round(v, k) - v) < 1e-12:
                    dec = max(dec, k)
                    break
        out = [f"{v:.{dec}f}" for v in ticks]
    return [s.replace("-", "\u2212") for s in out]


sns.set_theme(style="white")
plt.rcParams["font.family"] = ["Liberation Sans", "DejaVu Sans"]
plt.rcParams["axes.unicode_minus"] = True

fig = plt.figure(figsize=(W / 100, H / 100), dpi=100)
fig.patch.set_facecolor("white")
renderer = fig.canvas.get_renderer()


def rect(x, y, w, h):
    return [x / W, 1 - (y + h) / H, w / W, h / H]


ov = fig.add_axes([0, 0, 1, 1], zorder=10)
ov.set_xlim(0, W)
ov.set_ylim(H, 0)
ov.axis("off")
ov.patch.set_visible(False)


def rich(x, yb, parts, align="center", color="black"):
    items = []
    total = 0
    for s, weight, size, dy in parts:
        t = ov.text(0, yb + dy, s, fontsize=size, fontweight=weight, ha="left", va="baseline", color=color)
        w = t.get_window_extent(renderer).width
        items.append((t, w))
        total += w
    x0 = x - total / 2 if align == "center" else x
    for t, w in items:
        t.set_x(x0)
        x0 += w


HEADER_PARTS = [
    [("δ", "bold", 12.5, 0), ("13", "bold", 7, -7), ("C", "bold", 12.5, 0)],
    [("δ", "bold", 12.5, 0), ("15", "bold", 7, -7), ("N", "bold", 12.5, 0)],
    [("C : N", "bold", 12.5, 0)],
    [("C dens.", "bold", 8.8, 0), (" (g cm", "normal", 8.6, 0), ("\u22123", "normal", 5.5, -5), (")", "normal", 8.6, 0)],
    [("N dens.", "bold", 8.8, 0), (" (g cm", "normal", 8.6, 0), ("\u22123", "normal", 5.5, -5), (")", "normal", 8.6, 0)],
]

site_extent = {}
for site, pos, blk, y0, ticks, xlims, smooth, series in PANELS:
    ytop = y0 - 4 * PX_CM
    ybot = y0 + 84 * PX_CM
    site_extent.setdefault(site, [blk, ytop, ybot])
    site_extent[site][1] = min(site_extent[site][1], ytop)
    site_extent[site][2] = max(site_extent[site][2], ybot)
    dating_row = (site == "Roskilde" and pos == "Inside")
    for j, var in enumerate(VARIABLES):
        x = COLS[blk][j]
        pw = PW[blk]
        ax = fig.add_axes(rect(x, ytop, pw, ybot - ytop))
        ax.set_facecolor("white")
        xl = xlims[j]
        tk = ticks[j]
        # grid
        for t in DEPTH_TICKS:
            ax.axhline(t, color="#e6e6e6", lw=0.8, zorder=0)
        for t in [10, 30, 50, 70]:
            ax.axhline(t, color="#f3f3f3", lw=0.5, zorder=0)
        step = tk[1] - tk[0] if len(tk) > 1 else 1
        for t in tk:
            ax.axvline(t, color="#e6e6e6", lw=0.8, zorder=0)
        mids = np.arange(tk[0] - step / 2, xl[1] + step, step)
        for t in mids:
            if xl[0] < t < xl[1]:
                ax.axvline(t, color="#f3f3f3", lw=0.5, zorder=0)
        # smoothers
        for ch in smooth[j]:
            key = LETTER[ch.upper()]
            dep, vals = series[key]
            d = np.asarray(dep, float)
            v = np.asarray(vals[var], float)
            m = ~np.isnan(v)
            d, v = d[m], v[m]
            grid = np.linspace(d.min(), d.max(), 80)
            if ch.isupper():
                fit, se = loess_fit(d, v, grid)
            else:
                fit, se = lm_fit(d, v, grid)
            ax.fill_betweenx(grid, fit - 2.1 * se, fit + 2.1 * se, color=FILL_COL[key], alpha=0.45, lw=0, zorder=1)
            ax.plot(fit, grid, color=LINE_COL[key], lw=1.6, zorder=2)
        # data lines
        for key in DRAW_ORDER:
            dep, vals = series[key]
            d = np.asarray(dep, float)
            v = np.asarray(vals[var], float)
            m = ~np.isnan(v)
            df = pd.DataFrame({"value": v[m], "depth": d[m]})
            sns.lineplot(data=df, x="value", y="depth", sort=False, estimator=None, color=LINE_COL[key],
                         marker="o", markersize=3.3, markeredgewidth=0, linewidth=0.9, ax=ax, zorder=3)
        ax.set_xlim(*xl)
        ax.set_ylim(84, -4)
        ax.set_xlabel("")
        ax.set_ylabel("")
        for sp in ["top", "right"]:
            ax.spines[sp].set_visible(False)
        ax.spines["bottom"].set_color("black")
        ax.spines["bottom"].set_linewidth(1.3)
        ax.set_xticks(tk)
        ax.set_xticklabels(tick_labels(tk, (site, pos, j) in SCI_PANELS), rotation=90, fontsize=9, color="#1a1a1a")
        ax.tick_params(axis="x", length=3, width=0.8, color="black", pad=2, bottom=True)
        if j == 0:
            ax.spines["left"].set_color("black")
            ax.spines["left"].set_linewidth(1.3)
            yt = [0, 4, 20, 40, 60, 80] if dating_row else DEPTH_TICKS
            ax.set_yticks(yt)
            labs = [str(t) for t in yt]
            if dating_row:
                labs[0] = ""
                labs[1] = ""
            ax.set_yticklabels(labs, fontsize=9, color="#1a1a1a")
            ax.tick_params(axis="y", length=3, width=0.8, color="black", pad=2, left=True)
            if dating_row:
                ov.text(x - 6, y0 - 1.5, "0", fontsize=7.5, color="#1a1a1a", ha="right", va="center")
                ov.text(x - 6, y0 + 10, "4", fontsize=7.5, color="#1a1a1a", ha="right", va="center")
        else:
            ax.spines["left"].set_visible(False)
            ax.set_yticks(DEPTH_TICKS)
            ax.set_yticklabels([])
            ax.tick_params(axis="y", length=0)
        # column headers on the top row of each block
        if (blk == "L" and site == "Nibe" and pos == "Inside") or (blk == "R" and site == "South Funen" and pos == "Inside"):
            hh = 26 if blk == "L" else 25
            ov.add_patch(Rectangle((x, ytop - hh), pw, hh, fc=STRIP_BG, ec="none"))
            rich(x + pw / 2, ytop - hh / 2 + 5, HEADER_PARTS[j])
    # row strip
    rx = ROWSTRIP_X[blk]
    ov.add_patch(Rectangle((rx, ytop), 29, ybot - ytop, fc=STRIP_BG, ec="none"))
    ov.text(rx + 14.5, (ytop + ybot) / 2, pos, rotation=270, fontsize=13, fontweight="bold",
            ha="center", va="center")

for site, (blk, yt, yb) in site_extent.items():
    sx = SITESTRIP_X[blk]
    ov.add_patch(Rectangle((sx, yt), 30, yb - yt, fc=STRIP_BG, ec="none"))
    ov.plot([sx - 0.5, sx - 0.5], [yt, yb], color="#444444", lw=1.0)
    cx = sx + 14 if blk == "L" else sx + 12.5
    ov.text(cx, (yt + yb) / 2, site, rotation=270, fontsize=14, fontweight="bold", ha="center", va="center")

# y label
ov.text(24, 482, "Depth (cm)", rotation=90, fontsize=19, ha="center", va="center")

# dating annotation
ANN = "#6a1fb0"
for lab, yy in zip(DATING_LABELS, (530.0, 544.0)):
    ov.text(718, yy, lab, fontsize=9.5, fontweight="bold", color=ANN, ha="right", va="center")
    ov.annotate("", xy=(737, yy), xytext=(720, yy),
                arrowprops=dict(arrowstyle="-|>", color=ANN, lw=1.1, mutation_scale=7, shrinkA=0, shrinkB=0))

# legend
LEGEND = [("fine", 260, 17, "Vegetated", " and finely sliced cores"),
          ("bare", 715, 17, "Bare", " and coarsely sliced cores"),
          ("coarse", 260, 47, "Vegetated", " and coarsely sliced cores")]
for key, lx, ly, bold, rest in LEGEND:
    ov.add_patch(Rectangle((lx, ly), 85, 22, fc=PATCH_COL[key], ec="none"))
    ov.plot([lx, lx + 85], [ly + 11, ly + 11], color=LINE_COL[key], lw=2.4, solid_capstyle="butt")
    rich(lx + 92, ly + 18.5, [(bold, "bold", 16, 0), (rest, "normal", 16, 0)], align="left")

fig.savefig("out.png", dpi=100, facecolor="white")
